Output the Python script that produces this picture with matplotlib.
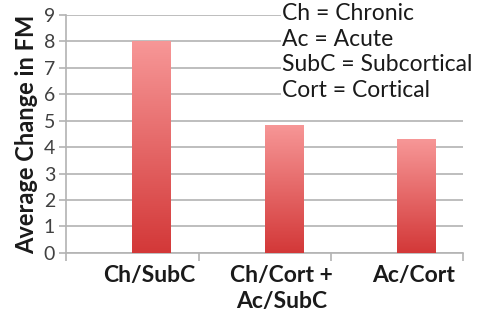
import numpy as np
import matplotlib
matplotlib.use('Agg')
from matplotlib import pyplot as plt
from matplotlib.colors import LinearSegmentedColormap

## data
categories = ['Ch/SubC', 'Ch/Cort +\nAc/SubC', 'Ac/Cort']
values = [8.0, 4.85, 4.3]
legendLines = ['Ch = Chronic', 'Ac = Acute', 'SubC = Subcortical', 'Cort = Cortical']

plt.rcParams['font.family'] = ['Lato', 'DejaVu Sans']

gridColor = '#b3b3b3'
textColor = '#1a1a1a'
barCmap = LinearSegmentedColormap.from_list('bar', ['#d33838', '#f79797'])

fig = plt.figure(figsize=(4.8, 3.2), dpi=100)
ax = fig.add_axes([0.138, 0.21, 0.827, 0.743])

xPos = np.arange(len(categories))
barWidth = 0.29
# bars sit just right of the category centre (empty second series slot)
bars = ax.bar(xPos, values, width=barWidth, align='edge', color='none', zorder=3)

# gradient fill clipped to each bar
gradient = np.linspace(0, 1, 256).reshape(-1, 1)
for bar in bars:
    x0, y0 = bar.get_x(), bar.get_y()
    w, h = bar.get_width(), bar.get_height()
    im = ax.imshow(gradient, extent=[x0, x0 + w, y0, y0 + h], origin='lower',
                   cmap=barCmap, aspect='auto', zorder=3)
    im.set_clip_path(bar)

ax.set_xlim(-0.5, len(categories) - 0.5)
ax.set_ylim(0, 9)
ax.set_yticks(np.arange(0, 10))
ax.yaxis.grid(True, color=gridColor, linewidth=1.2, zorder=0)
ax.set_axisbelow(True)

# x ticks at category boundaries, labels under the bars
ax.set_xticks(np.arange(-0.5, len(categories)), minor=False)
ax.set_xticklabels([])
ax.set_xticks(xPos + barWidth / 2 - 0.02, minor=True)
ax.set_xticklabels(categories, minor=True, fontsize=16.5, fontweight='bold',
                   color=textColor, linespacing=1.3)
ax.tick_params(axis='x', which='minor', length=0, pad=9)
ax.tick_params(axis='x', which='major', length=6, color=gridColor, width=1.2)
ax.tick_params(axis='y', length=5, color=gridColor, width=1.2, labelsize=14,
               labelcolor='#404040', pad=3)

for side in ['top', 'right']:
    ax.spines[side].set_visible(False)
for side in ['left', 'bottom']:
    ax.spines[side].set_color(gridColor)
    ax.spines[side].set_linewidth(1.2)

ax.set_ylabel('Average Change in FM', fontsize=17, fontweight='bold',
              color=textColor, labelpad=4)

# abbreviation key
fig.text(0.588, 0.99, '\n'.join(legendLines), fontsize=16.5, color=textColor,
         va='top', ha='left', linespacing=1.27,
         bbox=dict(facecolor='white', edgecolor='none', pad=1))

fig.savefig('out.png', dpi=100)
